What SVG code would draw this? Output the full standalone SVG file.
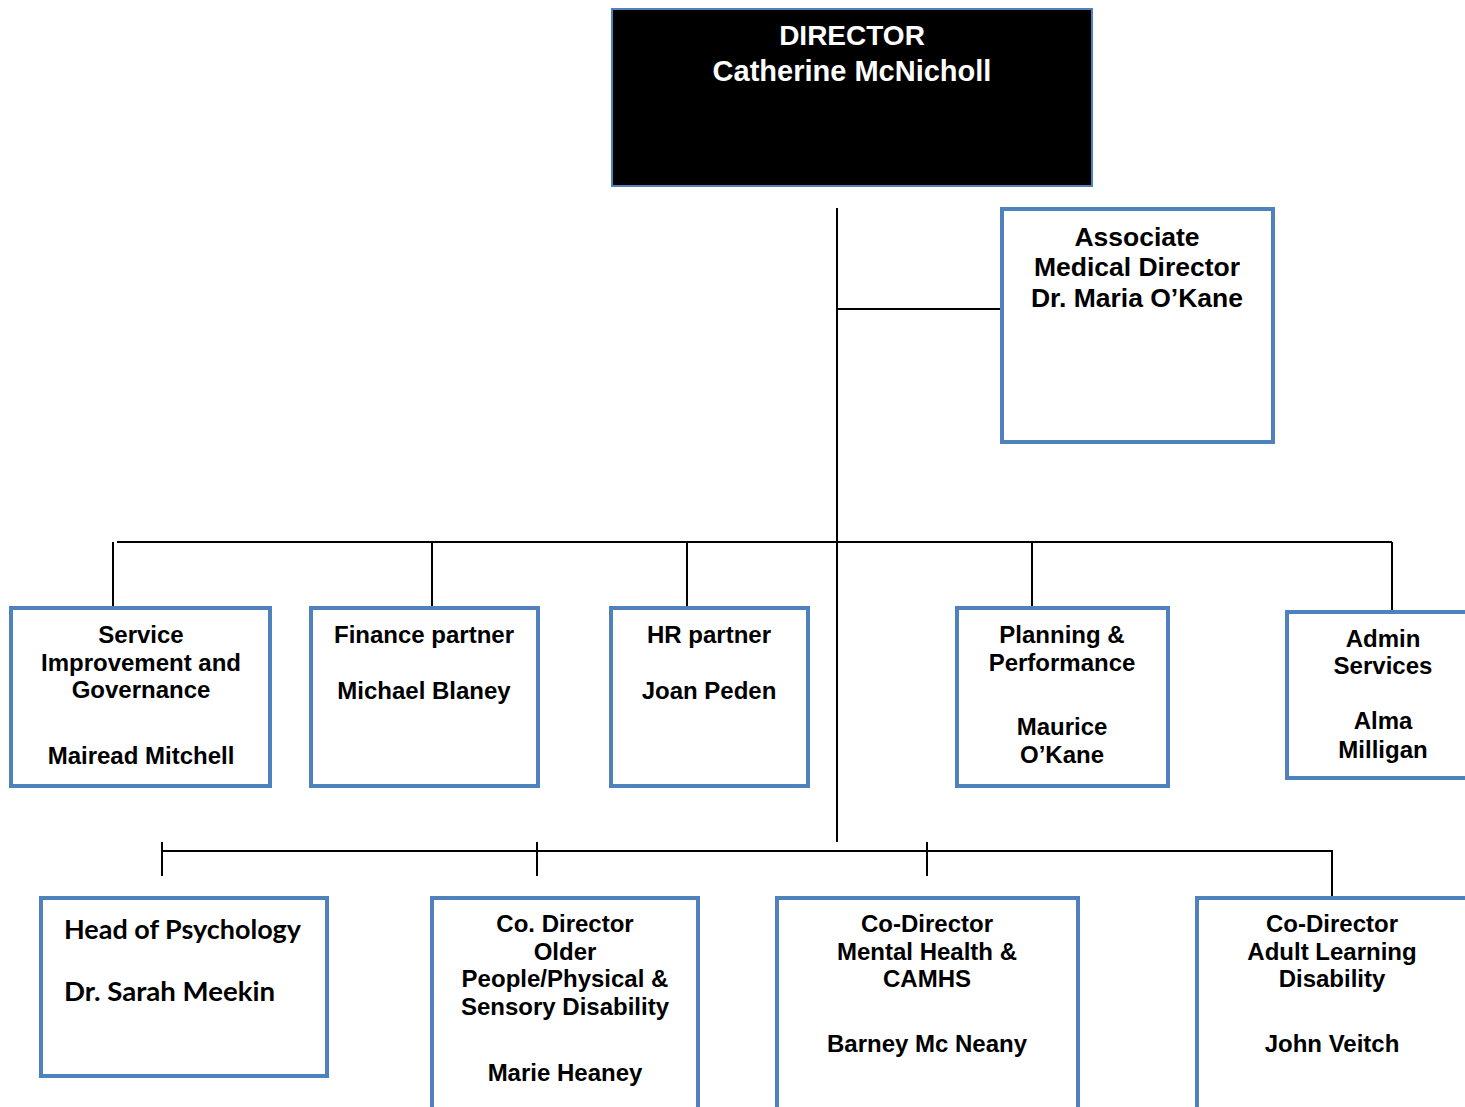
<svg xmlns="http://www.w3.org/2000/svg" width="1465" height="1107" viewBox="0 0 1465 1107">
<style>
.box{fill:#fff;stroke:#4f81bd;stroke-width:4}
.t{font-family:"Liberation Sans",Arial,sans-serif;font-weight:bold;font-size:24px;fill:#000;text-anchor:middle}
.c{fill:none;stroke:#000;stroke-width:2}
</style>
<rect width="1465" height="1107" fill="#fff"/>
<g id="connectors">
<line class="c" x1="837" y1="208" x2="837" y2="842"/>
<line class="c" x1="837" y1="309" x2="1003" y2="309"/>
<line class="c" x1="117" y1="542" x2="1392" y2="542"/>
<line class="c" x1="113" y1="542" x2="113" y2="611"/>
<line class="c" x1="432" y1="542" x2="432" y2="609"/>
<line class="c" x1="687" y1="542" x2="687" y2="609"/>
<line class="c" x1="1032" y1="542" x2="1032" y2="609"/>
<line class="c" x1="1392" y1="542" x2="1392" y2="612"/>
<polyline class="c" points="162,851 1332,851 1332,897"/>
<line class="c" x1="162" y1="842" x2="162" y2="876"/>
<line class="c" x1="537" y1="842" x2="537" y2="876"/>
<line class="c" x1="927" y1="842" x2="927" y2="876"/>
</g>
<g id="director">
<rect x="612" y="9" width="480" height="177" fill="#000" stroke="#4f81bd" stroke-width="2"/>
<text class="t" x="852" y="45" style="fill:#fff;font-size:28px">DIRECTOR</text>
<text class="t" x="852" y="81" style="fill:#fff;font-size:29px">Catherine McNicholl</text>
</g>
<g id="associate">
<rect class="box" x="1002" y="209" width="271" height="233"/>
<text class="t" x="1137" y="246" style="font-size:26.5px">Associate</text>
<text class="t" x="1137" y="276" style="font-size:26.5px">Medical Director</text>
<text class="t" x="1137" y="307" style="font-size:26.5px">Dr. Maria O’Kane</text>
</g>
<g id="service">
<rect class="box" x="11" y="608" width="259" height="178"/>
<text class="t" x="141" y="643">Service</text>
<text class="t" x="141" y="671">Improvement and</text>
<text class="t" x="141" y="698">Governance</text>
<text class="t" x="141" y="764">Mairead Mitchell</text>
</g>
<g id="finance">
<rect class="box" x="311" y="608" width="227" height="178"/>
<text class="t" x="424" y="643">Finance partner</text>
<text class="t" x="424" y="699">Michael Blaney</text>
</g>
<g id="hr">
<rect class="box" x="611" y="608" width="197" height="178"/>
<text class="t" x="709" y="643">HR partner</text>
<text class="t" x="709" y="699">Joan Peden</text>
</g>
<g id="planning">
<rect class="box" x="957" y="608" width="211" height="178"/>
<text class="t" x="1062" y="643">Planning &amp;</text>
<text class="t" x="1062" y="671">Performance</text>
<text class="t" x="1062" y="735">Maurice</text>
<text class="t" x="1062" y="763">O’Kane</text>
</g>
<g id="admin">
<rect class="box" x="1287" y="612" width="185" height="166"/>
<text class="t" x="1383" y="647">Admin</text>
<text class="t" x="1383" y="674">Services</text>
<text class="t" x="1383" y="729">Alma</text>
<text class="t" x="1383" y="758">Milligan</text>
</g>
<g id="psychology">
<rect class="box" x="41" y="898" width="286" height="178"/>
<text x="64" y="939" style="font-family:Lato,'Liberation Sans',sans-serif;font-weight:bold;font-size:26px" textLength="237" lengthAdjust="spacingAndGlyphs">Head of Psychology</text>
<text x="64" y="1001" style="font-family:Lato,'Liberation Sans',sans-serif;font-weight:bold;font-size:26px" textLength="211" lengthAdjust="spacingAndGlyphs">Dr. Sarah Meekin</text>
</g>
<g id="older-people">
<rect class="box" x="432" y="898" width="266" height="215"/>
<text class="t" x="565" y="932">Co. Director</text>
<text class="t" x="565" y="960">Older</text>
<text class="t" x="565" y="987">People/Physical &amp;</text>
<text class="t" x="565" y="1015">Sensory Disability</text>
<text class="t" x="565" y="1081">Marie Heaney</text>
</g>
<g id="mental-health">
<rect class="box" x="777" y="898" width="301" height="215"/>
<text class="t" x="927" y="932">Co-Director</text>
<text class="t" x="927" y="960">Mental Health &amp;</text>
<text class="t" x="927" y="987">CAMHS</text>
<text class="t" x="927" y="1052">Barney Mc Neany</text>
</g>
<g id="learning-disability">
<rect class="box" x="1197" y="898" width="275" height="215"/>
<text class="t" x="1332" y="932">Co-Director</text>
<text class="t" x="1332" y="960">Adult Learning</text>
<text class="t" x="1332" y="987">Disability</text>
<text class="t" x="1332" y="1052">John Veitch</text>
</g>
</svg>
